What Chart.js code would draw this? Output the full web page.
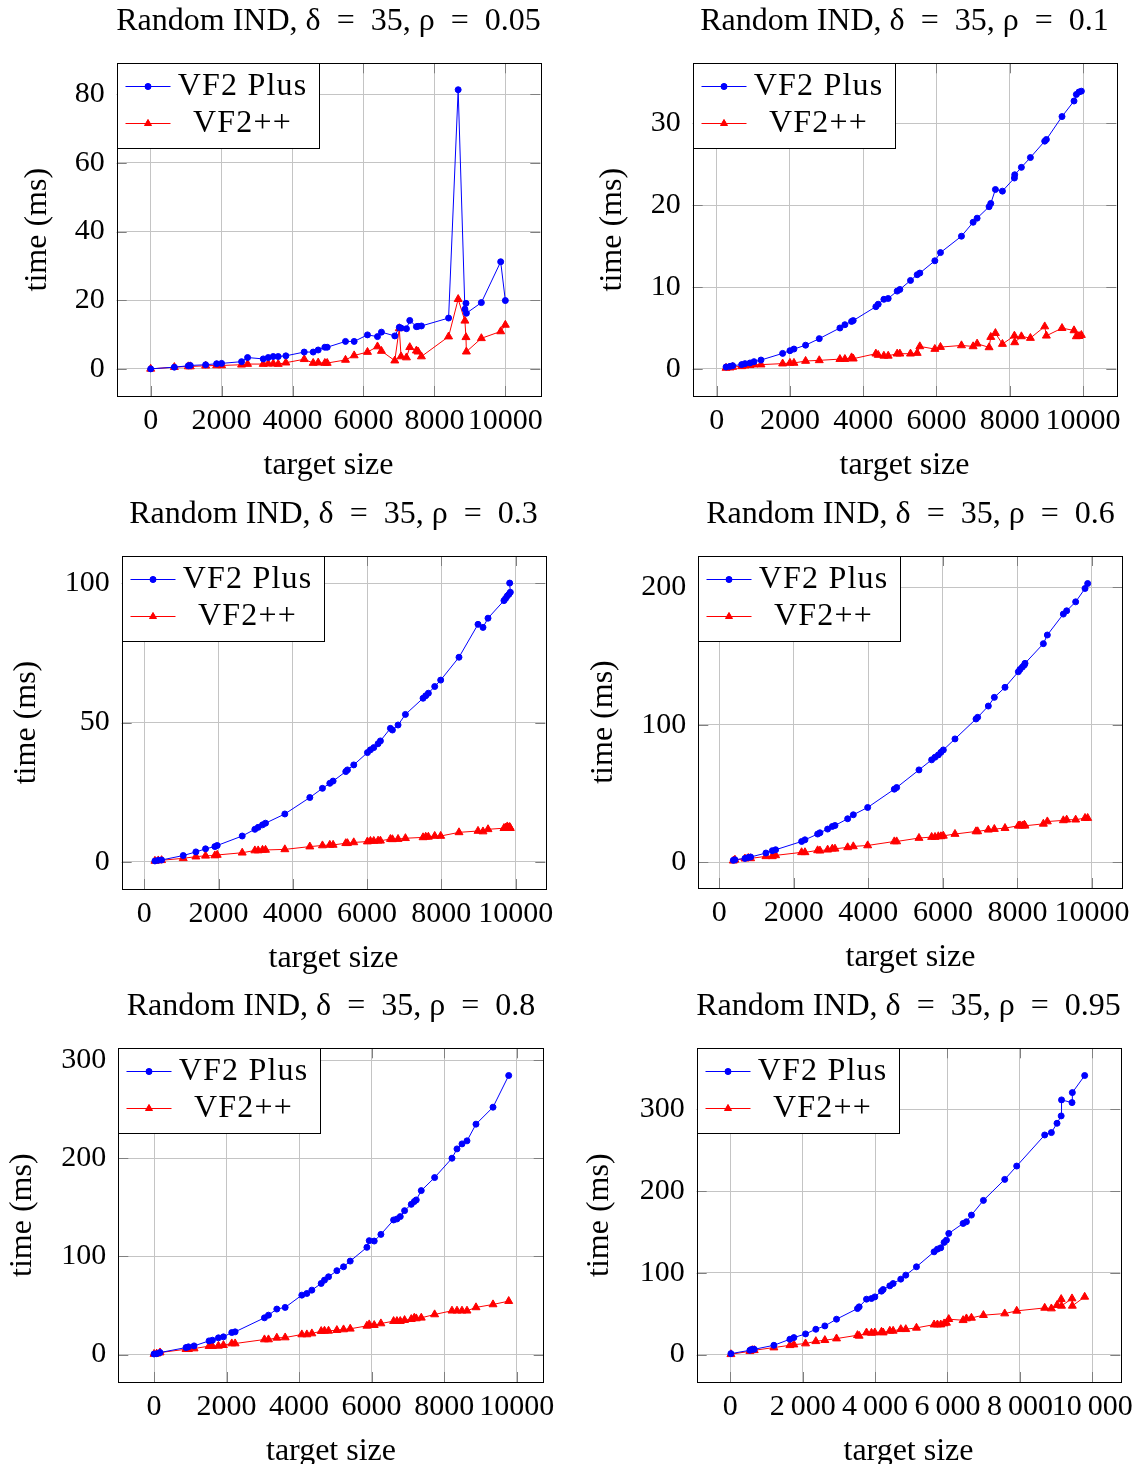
<!DOCTYPE html>
<html>
<head>
<meta charset="utf-8">
<script src="https://cdn.jsdelivr.net/npm/chart.js@4.4.1/dist/chart.umd.min.js"></script>
<style>
  html, body { margin: 0; padding: 0; background: #fff; overflow: hidden; }
  body { width: 1143px; height: 1464px; position: relative; }
  canvas { position: absolute; }
</style>
</head>
<body>
<script>
// target sizes and times (ms) per density
const size005 = [0, 667, 1061, 1117, 1550, 1860, 2000, 2563, 2732, 3174, 3315, 3456, 3596, 3812, 4329, 4582, 4723, 4911, 4977, 5493, 5737, 6113, 6395, 6507, 6883, 7010, 7060, 7212, 7305, 7493, 7540, 7634, 8400, 8670, 8860, 8890, 8902, 9324, 9869, 10000];
const plus005 = [0, 0.5, 0.9, 1.0, 1.2, 1.5, 1.6, 2.1, 3.3, 2.9, 3.3, 3.6, 3.6, 3.8, 4.9, 4.9, 5.5, 6.3, 6.3, 8.0, 8.0, 9.9, 9.4, 10.7, 9.6, 12.1, 11.9, 11.7, 14.1, 12.3, 12.4, 12.5, 14.8, 81.3, 17.4, 19.1, 16.2, 19.3, 31.2, 19.9];
const pp005 = [0, 0.5, 0.7, 0.7, 0.9, 1.0, 1.0, 1.2, 1.4, 1.4, 1.5, 1.5, 1.4, 1.8, 2.8, 1.7, 1.8, 1.7, 1.7, 2.6, 3.9, 4.9, 6.5, 5.2, 2.4, 11.8, 3.6, 3.3, 6.3, 5.3, 5.0, 3.6, 9.4, 20.3, 14.0, 9.2, 5.0, 8.9, 10.9, 12.8];

const size01 = [255, 364, 436, 682, 773, 909, 1018, 1209, 1800, 2000, 2109, 2427, 2800, 3364, 3500, 3682, 3727, 4345, 4409, 4564, 4682, 4927, 5000, 5291, 5473, 5545, 5955, 6109, 6682, 7000, 7109, 7436, 7482, 7609, 7800, 8127, 8136, 8318, 8564, 8955, 9000, 9427, 9755, 9818, 9891, 9955];
const plus01 = [0.24, 0.32, 0.4, 0.53, 0.65, 0.73, 0.89, 1.09, 1.9, 2.23, 2.43, 2.9, 3.7, 5.0, 5.4, 5.8, 5.9, 7.6, 7.9, 8.5, 8.6, 9.5, 9.7, 10.8, 11.5, 11.7, 13.2, 14.2, 16.2, 17.9, 18.4, 19.8, 20.2, 21.9, 21.7, 23.3, 23.7, 24.6, 25.8, 27.8, 28.0, 30.8, 32.7, 33.5, 33.8, 33.9];
const pp01 = [0.12, 0.16, 0.24, 0.32, 0.4, 0.45, 0.53, 0.53, 0.65, 0.73, 0.73, 0.97, 1.05, 1.2, 1.2, 1.4, 1.25, 1.86, 1.7, 1.6, 1.6, 1.86, 1.86, 1.86, 1.94, 2.75, 2.43, 2.67, 2.87, 2.75, 3.08, 2.63, 3.89, 4.37, 3.04, 4.05, 3.24, 3.97, 3.77, 5.18, 4.05, 4.98, 4.7, 3.97, 4.0, 4.13];

const size03 = [287, 377, 466, 1049, 1390, 1650, 1901, 1964, 2637, 2978, 3067, 3184, 3265, 3785, 4458, 4798, 4996, 5085, 5426, 5471, 5641, 6009, 6090, 6180, 6296, 6359, 6628, 6682, 6834, 7032, 7507, 7579, 7650, 7821, 7982, 8475, 8987, 9121, 9256, 9686, 9731, 9776, 9821, 9857, 9840];
const plus03 = [0.36, 0.6, 0.7, 2.3, 3.6, 4.7, 5.5, 5.9, 9.3, 11.7, 12.4, 13.3, 13.9, 17.2, 23.1, 26.4, 28.2, 29.0, 32.4, 33.0, 34.8, 39.2, 40.2, 41.0, 42.4, 43.4, 47.9, 47.3, 49.1, 52.9, 58.7, 59.6, 60.5, 62.9, 65.2, 73.4, 85.2, 84.1, 87.4, 93.7, 94.5, 95.4, 96.0, 96.7, 100.0];
const pp03 = [0.36, 0.5, 0.6, 1.3, 1.9, 2.2, 2.3, 2.5, 3.3, 4.1, 4.1, 4.3, 4.3, 4.5, 5.5, 5.9, 6.1, 6.1, 6.7, 6.7, 7.0, 7.3, 7.5, 7.5, 7.6, 7.6, 8.2, 8.1, 8.2, 8.5, 8.8, 9.0, 9.0, 9.3, 9.3, 10.6, 11.1, 10.9, 11.7, 12.1, 12.3, 12.7, 12.3, 12.1, 12.5];

const size06 = [376, 420, 689, 778, 841, 1252, 1422, 1512, 2209, 2299, 2639, 2701, 2907, 3032, 3104, 3444, 3596, 3981, 4696, 4759, 5358, 5698, 5788, 5877, 5948, 6011, 6324, 6888, 6932, 7219, 7380, 7666, 8024, 8068, 8131, 8185, 8203, 8695, 8802, 9231, 9321, 9562, 9813, 9884];
const plus06 = [1.5, 1.9, 2.9, 3.6, 3.9, 6.8, 8.5, 9.2, 15.2, 16.4, 20.6, 21.5, 24.2, 26.1, 26.8, 31.7, 34.6, 39.9, 53.2, 54.4, 67.2, 74.5, 76.4, 78.1, 80.0, 81.7, 89.7, 104.2, 105.4, 113.6, 119.9, 127.2, 138.5, 140.2, 141.9, 143.4, 144.6, 158.9, 165.2, 180.4, 182.8, 189.3, 199.0, 202.6];
const pp06 = [1.2, 1.9, 2.7, 3.1, 2.9, 4.4, 4.4, 5.1, 7.3, 7.3, 8.7, 8.5, 9.2, 9.9, 9.9, 10.9, 11.6, 12.3, 15.2, 15.2, 17.7, 18.4, 18.4, 18.9, 18.9, 19.3, 20.6, 22.5, 22.5, 23.7, 24.2, 24.9, 26.6, 26.8, 26.6, 27.3, 26.6, 28.0, 29.7, 30.5, 31.0, 31.0, 32.2, 32.2];

const size08 = [0, 74, 166, 883, 948, 1104, 1518, 1610, 1776, 1914, 2144, 2236, 3045, 3156, 3386, 3616, 4076, 4214, 4352, 4609, 4701, 4812, 5042, 5226, 5410, 5870, 5934, 6072, 6256, 6606, 6698, 6790, 6909, 7093, 7176, 7231, 7369, 7737, 8216, 8354, 8492, 8630, 8878, 9347, 9780];
const plus08 = [0.5, 0.8, 2.0, 7.1, 7.8, 8.8, 13.9, 14.6, 17.0, 18.0, 22.4, 23.1, 37.4, 40.1, 46.3, 48.0, 60.5, 62.2, 65.6, 72.4, 75.8, 79.2, 85.4, 89.4, 95.2, 109.2, 116.0, 115.6, 122.4, 137.1, 138.1, 140.5, 146.6, 153.0, 155.8, 157.5, 167.0, 180.3, 200.0, 209.5, 214.6, 217.7, 234.7, 252.0, 284.3];
const pp08 = [0.5, 0.8, 2.0, 5.4, 5.4, 6.1, 8.5, 8.5, 8.8, 9.5, 11.2, 11.2, 15.3, 15.3, 17.0, 17.3, 20.4, 20.4, 21.4, 23.8, 24.1, 24.1, 24.8, 25.5, 26.2, 29.2, 30.6, 29.9, 31.6, 34.0, 34.0, 34.0, 35.0, 36.0, 37.4, 36.7, 37.4, 40.8, 44.6, 44.6, 44.6, 44.6, 48.0, 51.0, 54.4];

const size095 = [18, 543, 607, 662, 1205, 1647, 1757, 2079, 2364, 2613, 2935, 3514, 3560, 3763, 3901, 3993, 4177, 4223, 4407, 4499, 4710, 4848, 5143, 5630, 5722, 5814, 5906, 5971, 6035, 6431, 6523, 6661, 6992, 7581, 7912, 8685, 8869, 9025, 9140, 9150, 9439, 9448, 9789];
const plus095 = [1.2, 5.3, 6.5, 6.5, 11.4, 18.8, 20.8, 25.3, 31.0, 35.1, 43.3, 56.3, 58.4, 67.8, 68.6, 70.6, 77.6, 79.6, 84.1, 86.9, 92.3, 97.2, 107.4, 125.7, 129.0, 130.6, 137.2, 140.0, 148.2, 160.4, 162.5, 170.6, 188.6, 214.3, 230.6, 268.6, 271.5, 282.9, 291.9, 311.5, 308.2, 320.4, 341.3];
const pp095 = [0.4, 4.1, 5.3, 5.3, 8.6, 11.4, 12.2, 13.5, 16.3, 17.6, 19.6, 23.7, 22.9, 26.9, 26.5, 26.9, 27.8, 26.9, 29.0, 29.0, 31.0, 31.0, 32.7, 36.7, 36.7, 36.7, 38.0, 38.8, 43.3, 42.0, 44.1, 44.9, 48.2, 50.2, 53.5, 57.1, 56.3, 60.4, 67.8, 59.6, 68.6, 59.6, 70.6];

const xTicks = [0, 2000, 4000, 6000, 8000, 10000];
const yTicks005 = [0, 20, 40, 60, 80];
const yTicks01 = [0, 10, 20, 30];
const yTicks03 = [0, 50, 100];
const yTicks06 = [0, 100, 200];
const yTicks08 = [0, 100, 200, 300];
const yTicks095 = [0, 100, 200, 300];

const FAMILY = "'Liberation Serif', 'Times New Roman', serif";
const BLUE = '#0000ff';
const RED = '#ff0000';
const LABEL_SIZE = 32;
const TICK_SIZE = 30;

const plain = (v) => String(v);
const spaced = (v) => String(v).replace(/\B(?=(\d{3})+(?!\d))/g, '\u2009');
// wider gaps around "=" like TeX math spacing
const title = (rho) => `Random IND, δ\u2002=\u200235, ρ\u2002=\u2002${rho}`;

// plot rects are page coords [left, top, right, bottom]
const panels = [
  { title: title('0.05'), xs: size005, plus: plus005, pp: pp005, yTicks: yTicks005,
    x: [-958, 10986], y: [-7.9, 89], origin: [0, 0], plot: [116.7, 63.3, 540.7, 396], yGap: 79, fmt: plain },
  { title: title('0.1'), xs: size01, plus: plus01, pp: pp01, yTicks: yTicks01,
    x: [-655, 10909], y: [-3.3, 37.3], origin: [571, 0], plot: [692.7, 63.3, 1116.7, 396], yGap: 80, fmt: plain },
  { title: title('0.3'), xs: size03, plus: plus03, pp: pp03, yTicks: yTicks03,
    x: [-608, 10799], y: [-9.7, 109.7], origin: [0, 488], plot: [121.7, 556, 545.7, 889], yGap: 95, fmt: plain },
  { title: title('0.6'), xs: size06, plus: plus06, pp: pp06, yTicks: yTicks06,
    x: [-563, 10824], y: [-18.6, 222.6], origin: [571, 488], plot: [698.3, 556, 1122.7, 888.3], yGap: 95, fmt: plain },
  { title: title('0.8'), xs: size08, plus: plus08, pp: pp08, yTicks: yTicks08,
    x: [-985, 10745], y: [-28, 312], origin: [0, 976], plot: [118.3, 1048.3, 543.3, 1381.7], yGap: 96, fmt: plain },
  { title: title('0.95'), xs: size095, plus: plus095, pp: pp095, yTicks: yTicks095,
    x: [-927, 10773], y: [-33.5, 374.6], origin: [571, 976], plot: [696.7, 1048.3, 1120.7, 1381.7], yGap: 97, fmt: spaced },
];

const font = (size) => ({ family: FAMILY, size, weight: 'normal', lineHeight: 1.2 });
const half = LABEL_SIZE * 1.2 / 2;

// pgfplots-like frame, inner tick marks and boxed legend in the upper-left corner
const framePlugin = {
  id: 'frameLegend',
  afterDatasetsDraw(chart) {
    const { ctx, chartArea: a, scales } = chart;
    ctx.save();
    ctx.lineWidth = 1;
    ctx.strokeStyle = '#808080';
    ctx.beginPath();
    for (const t of scales.x.ticks) {
      const px = Math.round(scales.x.getPixelForValue(t.value)) + 0.5;
      ctx.moveTo(px, a.bottom); ctx.lineTo(px, a.bottom - 10);
      ctx.moveTo(px, a.top); ctx.lineTo(px, a.top + 10);
    }
    for (const t of scales.y.ticks) {
      const py = Math.round(scales.y.getPixelForValue(t.value)) + 0.5;
      ctx.moveTo(a.left, py); ctx.lineTo(a.left + 10, py);
      ctx.moveTo(a.right, py); ctx.lineTo(a.right - 10, py);
    }
    ctx.stroke();

    ctx.strokeStyle = '#000';
    ctx.strokeRect(Math.round(a.left) + 0.5, Math.round(a.top) + 0.5, Math.round(a.right - a.left), Math.round(a.bottom - a.top));

    // legend box
    const lx = Math.round(a.left) + 0.5, ly = Math.round(a.top) + 0.5;
    ctx.fillStyle = '#fff';
    ctx.fillRect(lx, ly, 202, 85);
    ctx.strokeRect(lx, ly, 202, 85);
    const rows = [
      { label: 'VF2 Plus', color: BLUE, style: 'circle', r: 3, cy: ly + 23 },
      { label: 'VF2++', color: RED, style: 'triangle', r: 4, cy: ly + 60 },
    ];
    ctx.font = `${LABEL_SIZE}px ${FAMILY}`;
    ctx.letterSpacing = '1.2px';
    ctx.textAlign = 'center';
    ctx.textBaseline = 'middle';
    for (const row of rows) {
      ctx.strokeStyle = row.color;
      ctx.beginPath();
      ctx.moveTo(lx + 8, row.cy); ctx.lineTo(lx + 53, row.cy);
      ctx.stroke();
      ctx.fillStyle = row.color;
      Chart.helpers.drawPoint(ctx, { pointStyle: row.style, radius: row.r, borderWidth: 1, rotation: 0 }, lx + 30.5, row.cy);
      ctx.fill();
      ctx.fillStyle = '#000';
      ctx.fillText(row.label, lx + 125, row.cy);
    }
    ctx.restore();
  }
};

function makePanel(p) {
  const L = p.plot[0] - p.origin[0], T = p.plot[1] - p.origin[1];
  const R = p.plot[2] - p.origin[0], B = p.plot[3] - p.origin[1];
  const W = Math.round(L + R), H = Math.round(B + 100);
  const canvas = document.createElement('canvas');
  canvas.width = W; canvas.height = H;
  Object.assign(canvas.style, { left: p.origin[0] + 'px', top: p.origin[1] + 'px', width: W + 'px', height: H + 'px' });
  document.body.append(canvas);

  const pts = (ys) => p.xs.map((x, i) => ({ x, y: ys[i] }));
  const gridColor = '#c4c4c4';

  return new Chart(canvas, {
    type: 'line',
    data: {
      datasets: [
        { label: 'VF2 Plus', data: pts(p.plus), borderColor: BLUE, backgroundColor: BLUE, borderWidth: 1,
          pointStyle: 'circle', pointRadius: 3, pointBorderWidth: 1, pointHoverRadius: 3, tension: 0 },
        { label: 'VF2++', data: pts(p.pp), borderColor: RED, backgroundColor: RED, borderWidth: 1,
          pointStyle: 'triangle', pointRadius: 4.6, pointBorderWidth: 1, pointHoverRadius: 4.6, tension: 0 },
      ]
    },
    options: {
      responsive: false,
      animation: false,
      devicePixelRatio: 1,
      layout: { padding: 0 },
      scales: {
        x: {
          type: 'linear', position: 'bottom', min: p.x[0], max: p.x[1],
          afterBuildTicks: (s) => { s.ticks = xTicks.map((value) => ({ value })); },
          afterFit: (s) => { s.height = 100; },
          grid: { color: gridColor, lineWidth: 1, drawTicks: false },
          border: { display: false },
          ticks: { autoSkip: false, maxRotation: 0, minRotation: 0, padding: 7, color: '#000', font: font(TICK_SIZE),
            callback: (v) => p.fmt(v) },
          title: { display: true, text: 'target size', color: '#000', font: font(LABEL_SIZE), padding: { top: 0, bottom: 100 - 70 - half } },
        },
        y: {
          type: 'linear', position: 'left', min: p.y[0], max: p.y[1],
          afterBuildTicks: (s) => { s.ticks = p.yTicks.map((value) => ({ value })); },
          afterFit: (s) => { s.width = L; },
          grid: { color: gridColor, lineWidth: 1, drawTicks: false },
          border: { display: false },
          ticks: { padding: 12, color: '#000', font: font(TICK_SIZE) },
          title: { display: true, text: 'time (ms)', color: '#000', font: font(LABEL_SIZE), padding: { top: L - p.yGap - half, bottom: 0 } },
        },
        yR: {
          type: 'linear', position: 'right', display: true,
          afterFit: (s) => { s.width = L; },
          grid: { display: false }, border: { display: false }, ticks: { display: false },
        },
      },
      plugins: {
        legend: { display: false },
        tooltip: { enabled: false },
        title: { display: true, text: p.title, color: '#000', font: font(LABEL_SIZE), padding: { top: T - 41.5 - half, bottom: 41.5 - half } },
      },
    },
    plugins: [framePlugin],
  });
}

panels.forEach(makePanel);
</script>
</body>
</html>
